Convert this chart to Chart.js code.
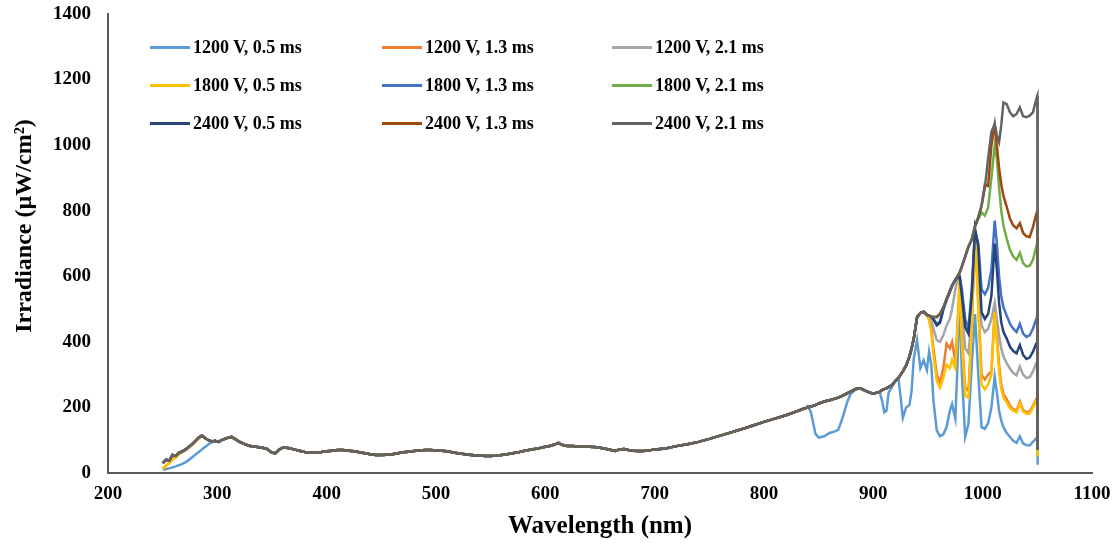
<!DOCTYPE html>
<html>
<head>
<meta charset="utf-8">
<script src="https://cdn.jsdelivr.net/npm/chart.js@4"></script>
<style>
  body { margin: 0; background: #fff; }
  #wrap { position: relative; width: 1120px; height: 551px; }
  #legend { position: absolute; left: 0; top: 0; font: bold 18px "Liberation Serif", "Times New Roman", serif; color: #000; }
  .item { position: absolute; display: flex; align-items: center; height: 22px; white-space: nowrap; }
  .swatch { width: 40px; height: 3px; margin-right: 3px; }
</style>
</head>
<body>
<div id="wrap">
  <canvas id="spectrumChart" width="1120" height="551"></canvas>
  <div id="legend"></div>
</div>
<script>
const seriesLabels = [
  "1200 V, 0.5 ms", "1200 V, 1.3 ms", "1200 V, 2.1 ms",
  "1800 V, 0.5 ms", "1800 V, 1.3 ms", "1800 V, 2.1 ms",
  "2400 V, 0.5 ms", "2400 V, 1.3 ms", "2400 V, 2.1 ms",
];
const seriesColors = [
  "#5b9bd5", "#ed7d31", "#a5a5a5",
  "#ffc000", "#4472c4", "#70ad47",
  "#264478", "#9e480e", "#636363",
];

// 250-295 nm, start of the spectrum
const headWl = [250, 253, 256, 259, 262, 265, 268, 271, 274, 277, 280, 283, 286, 289, 292, 295];
const headDark = [30, 40, 38, 55, 52, 62, 66, 72, 80, 88, 98, 108, 114, 106, 100, 96];
const headWarm = [12, 22, 30, 42, 48, 58, 64, 70, 78, 86, 96, 106, 112, 106, 100, 96];
const headCool = [10, 12, 14, 17, 20, 24, 28, 33, 40, 48, 56, 64, 72, 80, 88, 95];

// 298-836 nm, all series on top of each other
const midWl = [298, 301, 304, 307, 310, 313, 316, 320, 325, 330, 335, 340, 345, 350, 353, 356, 360, 365, 370, 375,
  380, 385, 390, 395, 400, 405, 410, 415, 420, 425, 430, 435, 440, 445, 450, 455, 460, 465, 470, 475,
  480, 485, 490, 495, 500, 505, 510, 515, 520, 525, 530, 535, 540, 545, 550, 555, 560, 565, 570, 575,
  580, 585, 590, 595, 600, 605, 610, 612, 615, 620, 625, 630, 635, 640, 645, 650, 655, 660, 664, 668,
  672, 676, 680, 685, 690, 695, 700, 710, 720, 730, 740, 750, 760, 770, 780, 790, 800, 810, 820, 830, 836];
const midVals = [98, 95, 100, 104, 108, 110, 104, 96, 88, 82, 80, 78, 74, 62, 60, 70, 78, 76, 72, 68,
  64, 62, 63, 64, 66, 68, 70, 70, 68, 66, 63, 60, 57, 55, 55, 56, 57, 60, 63, 65,
  67, 69, 70, 70, 69, 68, 66, 63, 60, 58, 56, 54, 53, 52, 52, 53, 55, 57, 60, 63,
  67, 70, 73, 76, 80, 83, 89, 92, 86, 82, 82, 81, 80, 80, 79, 77, 74, 70, 67, 72,
  73, 70, 68, 67, 67, 69, 72, 75, 82, 88, 95, 104, 114, 124, 134, 145, 156, 166, 176, 188, 196];

// 838-949 nm
const dipWl = [838, 840, 843, 847, 850, 855, 860, 865, 868, 872, 876, 879, 884, 888, 892, 896, 900, 904,
  906, 908, 910, 912, 914, 917, 920, 923, 925, 927, 930, 933, 935, 937, 940, 943, 946, 949];
const dipDark = [198, 200, 203, 207, 212, 218, 222, 227, 230, 236, 243, 248, 256, 258, 252, 246, 242, 246,
  248, 253, 256, 258, 262, 268, 280, 290, 300, 310, 328, 355, 380, 410, 475, 488, 492, 482];
const dipCool = [198, 205, 185, 120, 108, 112, 122, 127, 132, 170, 215, 240, 256, 258, 252, 246, 242, 246,
  245, 220, 185, 190, 245, 262, 280, 288, 230, 168, 200, 207, 250, 350, 405, 320, 344, 314];

// 951-1050 nm, every series on its own
const tailWl = [951, 953, 955, 958, 961, 964, 967, 970, 972, 975, 977, 979, 981, 984, 987, 990, 993, 996, 999, 1002,
  1005, 1008, 1011, 1013, 1015, 1017, 1019, 1022, 1025, 1028, 1031, 1034, 1037, 1040, 1043, 1046, 1049, 1050, 1050.3];
const tail1200_05 = [370, 330, 220, 130, 112, 118, 140, 190, 210, 165, 330, 550, 300, 110, 150, 330, 485, 300, 140, 135,
  152, 200, 294, 245, 190, 160, 140, 122, 110, 98, 92, 112, 90, 85, 84, 95, 106, 108, 25];
const tail1200_13 = [470, 440, 380, 300, 275, 320, 395, 380, 400, 340, 450, 590, 420, 260, 250, 450, 720, 520, 300, 285,
  300, 310, 500, 420, 330, 270, 240, 225, 205, 195, 190, 218, 192, 185, 188, 205, 225, 230, 70];
const tail1200_21 = [478, 465, 440, 405, 400, 420, 450, 470, 500, 560, 590, 600, 500, 380, 365, 480, 700, 600, 450, 430,
  440, 470, 520, 470, 420, 380, 355, 335, 318, 305, 298, 325, 300, 290, 292, 310, 335, 340, 70];
const tail1800_05 = [465, 430, 360, 280, 260, 290, 330, 320, 345, 320, 440, 588, 400, 235, 230, 440, 740, 500, 270, 255,
  270, 300, 490, 400, 310, 255, 230, 215, 198, 190, 185, 212, 188, 180, 182, 200, 220, 225, 50];
const tail1800_13 = [480, 477, 470, 455, 462, 500, 530, 555, 572, 590, 598, 600, 560, 470, 440, 560, 740, 700, 560, 545,
  565, 620, 770, 700, 600, 540, 505, 480, 455, 440, 430, 455, 425, 415, 420, 440, 470, 475, 70];
const tail1800_21 = [480, 477, 476, 476, 485, 505, 530, 555, 572, 590, 600, 612, 630, 660, 690, 712, 752, 775, 795, 785,
  810, 900, 1000, 960, 870, 800, 755, 715, 680, 660, 650, 672, 640, 630, 632, 650, 690, 700, 70];
const tail2400_05 = [480, 477, 468, 450, 458, 498, 528, 552, 570, 588, 596, 598, 540, 445, 425, 540, 745, 690, 490, 470,
  485, 540, 700, 620, 520, 460, 430, 410, 385, 372, 365, 390, 360, 348, 352, 370, 395, 400, 70];
const tail2400_13 = [480, 477, 476, 476, 485, 505, 530, 555, 572, 590, 600, 612, 630, 660, 690, 712, 752, 780, 815, 880,
  875, 1000, 1062, 1000, 930, 880, 845, 812, 775, 755, 746, 762, 732, 722, 720, 750, 790, 800, 70];
const tail2400_21 = [480, 477, 476, 476, 485, 505, 530, 555, 572, 590, 600, 612, 630, 660, 690, 712, 752, 780, 815, 870,
  960, 1040, 1065, 1030, 1010, 1060, 1130, 1125, 1100, 1088, 1095, 1115, 1088, 1085, 1090, 1100, 1140, 1150, 70];

const xTicks = { min: 200, max: 1100, step: 100 };
const yTicks = { min: 0, max: 1400, step: 200 };

const seriesHeads = [headCool, headWarm, headDark, headWarm, headDark, headDark, headDark, headDark, headDark];
const seriesDips = [dipCool, dipDark, dipDark, dipDark, dipDark, dipDark, dipDark, dipDark, dipDark];
const seriesTails = [tail1200_05, tail1200_13, tail1200_21, tail1800_05, tail1800_13, tail1800_21,
  tail2400_05, tail2400_13, tail2400_21];

const serif = '"Liberation Serif", "Times New Roman", serif';

function joinParts(parts) {
  const pts = [];
  parts.forEach(([wl, vals]) => {
    wl.forEach((x, i) => pts.push({ x: x, y: vals[i] }));
  });
  return pts;
}

function buildDatasets() {
  return seriesLabels.map((label, i) => ({
    label: label,
    data: joinParts([
      [headWl, seriesHeads[i]],
      [midWl, midVals],
      [dipWl, seriesDips[i]],
      [tailWl, seriesTails[i]],
    ]),
    // later series sit on top, like in Excel
    order: seriesLabels.length - i,
    borderColor: seriesColors[i],
    backgroundColor: seriesColors[i],
    borderWidth: 2.5,
    pointRadius: 0,
    tension: 0,
    fill: false,
  }));
}

function buildLegend() {
  const legend = document.getElementById("legend");
  const colX = [150, 382, 612];
  const rowY = [47, 85, 123];
  seriesLabels.forEach((label, i) => {
    const item = document.createElement("div");
    item.className = "item";
    item.style.left = colX[i % 3] + "px";
    item.style.top = rowY[Math.floor(i / 3)] - 11 + "px";
    item.innerHTML = `<span class="swatch" style="background:${seriesColors[i]}"></span><span>${label}</span>`;
    legend.appendChild(item);
  });
}

// y title sits a bit above the middle of the axis in the original
const yTitlePlugin = {
  id: "yTitle",
  afterDraw(chart) {
    const ctx = chart.ctx;
    ctx.save();
    ctx.translate(25, 226);
    ctx.rotate(-Math.PI / 2);
    ctx.font = `bold 24px ${serif}`;
    ctx.fillStyle = "#000";
    ctx.textAlign = "center";
    ctx.textBaseline = "middle";
    ctx.fillText("Irradiance (µW/cm²)", 0, 0);
    ctx.restore();
  },
};

function initChart() {
  const ctx = document.getElementById("spectrumChart").getContext("2d");
  new Chart(ctx, {
    type: "line",
    data: { datasets: buildDatasets() },
    plugins: [yTitlePlugin],
    options: {
      responsive: false,
      animation: false,
      devicePixelRatio: 1,
      layout: { padding: { top: 14, right: 28, bottom: 0, left: 0 } },
      plugins: { legend: { display: false }, tooltip: { enabled: false } },
      scales: {
        x: {
          type: "linear",
          min: xTicks.min,
          max: xTicks.max,
          afterFit: (scale) => {
            scale.height = 78;
            scale.paddingLeft = 0;
            scale.paddingRight = 0;
          },
          grid: { display: false, drawTicks: false },
          border: { display: true, color: "#595959", width: 2 },
          ticks: { stepSize: xTicks.step, padding: 10, color: "#000",
            callback: (v) => String(v),
            font: { family: serif, size: 19, weight: "bold" } },
          title: { display: true, text: "Wavelength (nm)", color: "#000", padding: { top: 0, bottom: 9 },
            font: { family: serif, size: 25, weight: "bold" } },
        },
        y: {
          min: yTicks.min,
          max: yTicks.max,
          afterFit: (scale) => {
            scale.width = 108;
            scale.paddingTop = 0;
            scale.paddingBottom = 0;
          },
          grid: { display: false, drawTicks: false },
          border: { display: true, color: "#595959", width: 2 },
          ticks: { stepSize: yTicks.step, padding: 17, color: "#000",
            callback: (v) => String(v),
            font: { family: serif, size: 19, weight: "bold" } },
        },
      },
    },
  });
}

buildLegend();
initChart();
</script>
</body>
</html>
